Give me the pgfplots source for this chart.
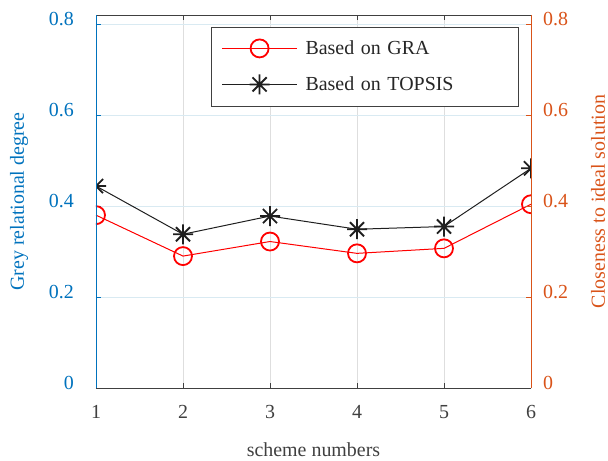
\documentclass[border=0pt]{standalone}
\usepackage{fontspec}
\setmainfont{Liberation Serif}
\usepackage{pgfplots}
\pgfplotsset{compat=1.18}

\definecolor{mblue}{RGB}{0,114,189}
\definecolor{morange}{RGB}{217,83,25}
\definecolor{axgray}{RGB}{64,64,64}
\definecolor{hgrid}{RGB}{217,234,242}
\definecolor{vgrid}{RGB}{222,222,222}

% eight-armed asterisk (plus and cross combined)
\pgfdeclareplotmark{ast8}{%
  \pgfpathmoveto{\pgfpoint{-\pgfplotmarksize}{0pt}}%
  \pgfpathlineto{\pgfpoint{\pgfplotmarksize}{0pt}}%
  \pgfpathmoveto{\pgfpoint{0pt}{-\pgfplotmarksize}}%
  \pgfpathlineto{\pgfpoint{0pt}{\pgfplotmarksize}}%
  \pgfpathmoveto{\pgfpoint{-0.707\pgfplotmarksize}{-0.707\pgfplotmarksize}}%
  \pgfpathlineto{\pgfpoint{0.707\pgfplotmarksize}{0.707\pgfplotmarksize}}%
  \pgfpathmoveto{\pgfpoint{-0.707\pgfplotmarksize}{0.707\pgfplotmarksize}}%
  \pgfpathlineto{\pgfpoint{0.707\pgfplotmarksize}{-0.707\pgfplotmarksize}}%
  \pgfusepathqstroke}

\newcommand{\lblfont}{\fontsize{20}{24}\selectfont}

\pgfplotsset{
  common/.style={
    at={(0,0)}, anchor=south west,
    scale only axis, width=435bp, height=373bp,
    xmin=1, xmax=6, ymin=0, ymax=0.82,
    xtick={1,2,3,4,5,6}, ytick={0,0.2,0.4,0.6,0.8},
    tick align=inside, major tick length=5bp,
    axis line style={draw=none},
    clip marker paths=true,
    /pgf/number format/assume math mode=true,
    ticklabel style={font=\lblfont},
  },
  grastyle/.style={red, line width=1bp, mark=o, mark size=9bp,
    mark options={line width=1.8bp, solid}},
  topstyle/.style={black!88, line width=1bp, mark=ast8, mark size=10bp,
    mark options={line width=1.8bp, solid}},
}

\begin{document}
\begin{tikzpicture}
\useasboundingbox (-96bp,-73bp) rectangle (512bp,388bp);

% left axis: grey relational degree
\begin{axis}[common,
  xtick pos=both, ytick pos=left,
  xtick style={axgray, line width=0.6bp},
  ytick style={mblue, line width=0.6bp},
  xticklabel style={axgray, inner sep=0pt, yshift=-17bp},
  yticklabel style={mblue, inner sep=0pt, xshift=-22bp, yshift=5bp},
  xmajorgrids, ymajorgrids,
  x grid style={vgrid, line width=0.7bp},
  y grid style={hgrid, line width=0.8bp},
  xlabel={scheme numbers}, ylabel={Grey relational degree},
  every axis x label/.style={at={(axis description cs:0.5,-0.166)}, anchor=center, axgray, font=\lblfont},
  every axis y label/.style={at={(axis description cs:-0.177,0.5)}, anchor=center, rotate=90, mblue, font=\lblfont},
]
\addplot[grastyle] coordinates {
  (1,0.380) (2,0.290) (3,0.322) (4,0.296) (5,0.307) (6,0.404)
};
\end{axis}

% right axis: closeness to ideal solution
\begin{axis}[common,
  xtick=\empty, ytick pos=right,
  ytick style={morange, line width=0.6bp},
  yticklabel style={morange, inner sep=0pt, xshift=12bp, yshift=5bp},
  ylabel={Closeness to ideal solution},
  every axis y label/.style={at={(axis description cs:1.154,0.5)}, anchor=center, rotate=90, morange, font=\lblfont},
  legend image code/.code={%
    \draw[mark repeat=2, mark phase=2, #1]
      plot coordinates {(0bp,0bp) (37.5bp,0bp) (75bp,0bp)};},
  legend cell align=left,
  legend style={at={(0.9724,0.9678)}, anchor=north east,
    draw=axgray, line width=0.8bp, fill=white,
    font=\lblfont, text=black!85,
    inner xsep=10bp, inner ysep=12bp, row sep=17bp, column sep=8bp,
    nodes={inner sep=0pt},
    /tikz/every even column/.append style={text width=203bp}},
]
\addlegendimage{grastyle}
\addlegendentry{Based on GRA}
\addplot[topstyle] coordinates {
  (1,0.444) (2,0.338) (3,0.378) (4,0.349) (5,0.355) (6,0.483)
};
\addlegendentry{Based on TOPSIS}
\end{axis}

% box edges in the colours of their axes
\draw[axgray, line width=0.8bp] (0,0) -- (435bp,0);
\draw[axgray, line width=0.8bp] (0,373bp) -- (435bp,373bp);
\draw[mblue, line width=1bp] (0,0) -- (0,373bp);
\draw[morange, line width=1bp] (435bp,0) -- (435bp,373bp);
\end{tikzpicture}
\end{document}
